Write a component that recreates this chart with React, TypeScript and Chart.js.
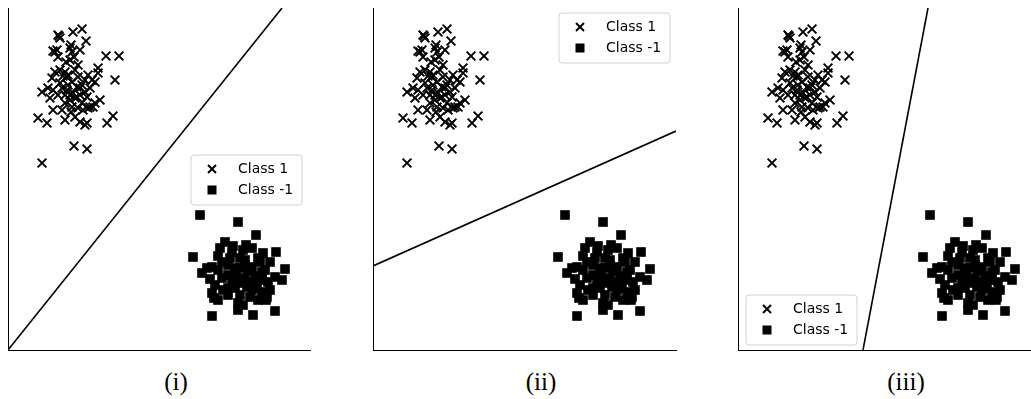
import { useEffect, useRef } from "react";
import { Chart, registerables } from "chart.js";

Chart.register(...registerables);

// Class 1 (crosses) – data units
const class1X = [34, 66, 79, 30, 39, 99, 105, 107, 98, 111, 65, 74, 78, 51, 52, 50, 45, 47, 49, 50, 62, 64, 63, 72, 66, 70, 90, 90, 47, 52, 57, 59, 60, 44, 55, 70, 80, 84, 87, 77, 34, 40, 42, 45, 54, 59, 62, 65, 69, 72, 77, 79, 92, 87, 82, 45, 54, 57, 64, 70, 75, 57, 67, 72, 77, 79, 62, 67, 60, 82, 50, 74, 52, 69, 63, 80, 85, 58, 67, 74, 64, 57, 72, 62];
const class1Y = [187, 204, 201, 232, 227, 227, 234, 270, 294, 294, 318, 321, 309, 314, 312, 315, 299, 298, 300, 293, 302, 298, 305, 300, 293, 285, 282, 277, 278, 280, 278, 273, 275, 272, 274, 273, 275, 270, 268, 270, 258, 262, 252, 260, 262, 260, 255, 257, 253, 255, 258, 253, 250, 247, 243, 240, 240, 247, 243, 242, 240, 230, 233, 228, 225, 227, 250, 252, 265, 262, 255, 247, 267, 263, 238, 242, 243, 288, 280, 265, 268, 255, 262, 290];

// Class -1 (squares) – data units
const classNegX = [192, 230, 248, 185, 217, 225, 212, 235, 244, 268, 277, 267, 274, 194, 199, 204, 220, 232, 244, 257, 207, 204, 210, 227, 239, 249, 257, 242, 230, 230, 204, 245, 267, 259, 222, 237, 250, 214, 254, 262, 224, 237, 247, 214, 232, 250, 220, 255, 210, 227, 240, 252, 206, 215, 262, 244, 235, 224, 260, 202, 232, 220, 248, 258, 238, 210, 254, 228, 237, 242, 220, 254, 232];
const classNegY = [135, 128, 115, 93, 108, 104, 102, 100, 102, 98, 81, 73, 70, 77, 82, 83, 75, 82, 83, 80, 65, 57, 50, 62, 63, 62, 58, 53, 47, 40, 34, 35, 39, 53, 92, 90, 92, 88, 70, 88, 68, 72, 74, 72, 55, 50, 55, 97, 94, 82, 79, 88, 52, 60, 60, 60, 45, 98, 68, 71, 67, 85, 68, 50, 105, 80, 55, 74, 85, 68, 62, 78, 92];

// Decision boundaries, one per panel
const boundaryX = [
  [0, 274],
  [0, 303],
  [125, 190],
];
const boundaryY = [
  [0, 342],
  [84, 219],
  [0, 342],
];

const panelLabels = ["(i)", "(ii)", "(iii)"];
const legendLabels = ["Class 1", "Class -1"];

// layout (page pixels)
const PAD = 10;
const PLOT_TOP = 8;
const PLOT_H = 342;
const panels = [
  { left: 8, width: 302, legend: { dx: 183, dy: 147 }, captionCx: 176 },
  { left: 373, width: 303, legend: { dx: 186, dy: 5 }, captionCx: 541 },
  { left: 738, width: 302, legend: { dx: 8, dy: 287 }, captionCx: 906 },
];

function Panel({ idx }: { idx: number }) {
  const ref = useRef<HTMLCanvasElement>(null);
  const p = panels[idx];
  useEffect(() => {
    if (!ref.current) return;
    const legendPlugin = {
      id: "customLegend" + idx,
      afterDraw(chart: any) {
        const ctx = chart.ctx as CanvasRenderingContext2D;
        const a = chart.chartArea;
        const x0 = a.left + p.legend.dx;
        const y0 = a.top + p.legend.dy;
        const w = 111;
        const h = 50;
        ctx.save();
        ctx.beginPath();
        const r = 3;
        ctx.moveTo(x0 + r, y0);
        ctx.lineTo(x0 + w - r, y0);
        ctx.quadraticCurveTo(x0 + w, y0, x0 + w, y0 + r);
        ctx.lineTo(x0 + w, y0 + h - r);
        ctx.quadraticCurveTo(x0 + w, y0 + h, x0 + w - r, y0 + h);
        ctx.lineTo(x0 + r, y0 + h);
        ctx.quadraticCurveTo(x0, y0 + h, x0, y0 + h - r);
        ctx.lineTo(x0, y0 + r);
        ctx.quadraticCurveTo(x0, y0, x0 + r, y0);
        ctx.closePath();
        ctx.fillStyle = "rgba(255,255,255,0.85)";
        ctx.fill();
        ctx.strokeStyle = "#d0d0d0";
        ctx.lineWidth = 1;
        ctx.stroke();
        // markers
        const mx = x0 + 21;
        const r1 = y0 + 14;
        const r2 = y0 + 35;
        ctx.strokeStyle = "#000";
        ctx.lineWidth = 2;
        ctx.beginPath();
        ctx.moveTo(mx - 4, r1 - 4);
        ctx.lineTo(mx + 4, r1 + 4);
        ctx.moveTo(mx - 4, r1 + 4);
        ctx.lineTo(mx + 4, r1 - 4);
        ctx.stroke();
        ctx.fillStyle = "#000";
        ctx.fillRect(mx - 4.5, r2 - 4.5, 9, 9);
        ctx.font = "14px 'DejaVu Sans'";
        ctx.textBaseline = "middle";
        ctx.textAlign = "left";
        ctx.fillText(legendLabels[0], x0 + 47, r1);
        ctx.fillText(legendLabels[1], x0 + 47, r2);
        ctx.restore();
      },
    };
    const chart = new Chart(ref.current, {
      type: "scatter",
      data: {
        datasets: [
          {
            label: legendLabels[0],
            data: class1X.map((x, i) => ({ x, y: class1Y[i] })),
            pointStyle: "crossRot",
            pointRadius: 6.2,
            pointBorderWidth: 2,
            borderColor: "#000",
            backgroundColor: "#000",
          },
          {
            label: legendLabels[1],
            data: classNegX.map((x, i) => ({ x, y: classNegY[i] })),
            pointStyle: "rect",
            pointRadius: 6.8,
            pointBorderWidth: 0,
            borderColor: "#000",
            backgroundColor: "#000",
          },
          {
            label: "boundary",
            data: boundaryX[idx].map((x, i) => ({ x, y: boundaryY[idx][i] })),
            showLine: true,
            pointRadius: 0,
            borderColor: "#000",
            borderWidth: 1.6,
            clip: 0,
          } as any,
        ],
      },
      options: {
        animation: false,
        responsive: false,
        devicePixelRatio: 1,
        layout: { padding: PAD },
        plugins: { legend: { display: false }, tooltip: { enabled: false } },
        scales: {
          x: {
            type: "linear",
            min: 0,
            max: p.width,
            grid: { display: false, drawTicks: false },
            ticks: { display: false },
            border: { display: true, color: "#000", width: 1 },
          },
          y: {
            type: "linear",
            min: 0,
            max: PLOT_H,
            grid: { display: false, drawTicks: false },
            ticks: { display: false },
            border: { display: true, color: "#000", width: 1 },
          },
        },
      },
      plugins: [legendPlugin],
    });
    return () => chart.destroy();
  }, [idx]);
  return (
    <>
      <canvas
        ref={ref}
        width={p.width + 2 * PAD}
        height={PLOT_H + 2 * PAD}
        style={{
          position: "absolute",
          left: p.left - PAD,
          top: PLOT_TOP - PAD,
          width: p.width + 2 * PAD,
          height: PLOT_H + 2 * PAD,
        }}
      />
      <div
        style={{
          position: "absolute",
          left: p.captionCx - 50,
          width: 100,
          top: 369,
          textAlign: "center",
          fontFamily: "'Liberation Serif', serif",
          fontSize: 25,
          lineHeight: "25px",
          color: "#000",
        }}
      >
        {panelLabels[idx]}
      </div>
    </>
  );
}

export default function App() {
  return (
    <div
      style={{
        position: "fixed",
        left: 0,
        top: 0,
        width: 1031,
        height: 399,
        overflow: "hidden",
        background: "#fff",
      }}
    >
      {panels.map((_, i) => (
        <Panel key={i} idx={i} />
      ))}
    </div>
  );
}
